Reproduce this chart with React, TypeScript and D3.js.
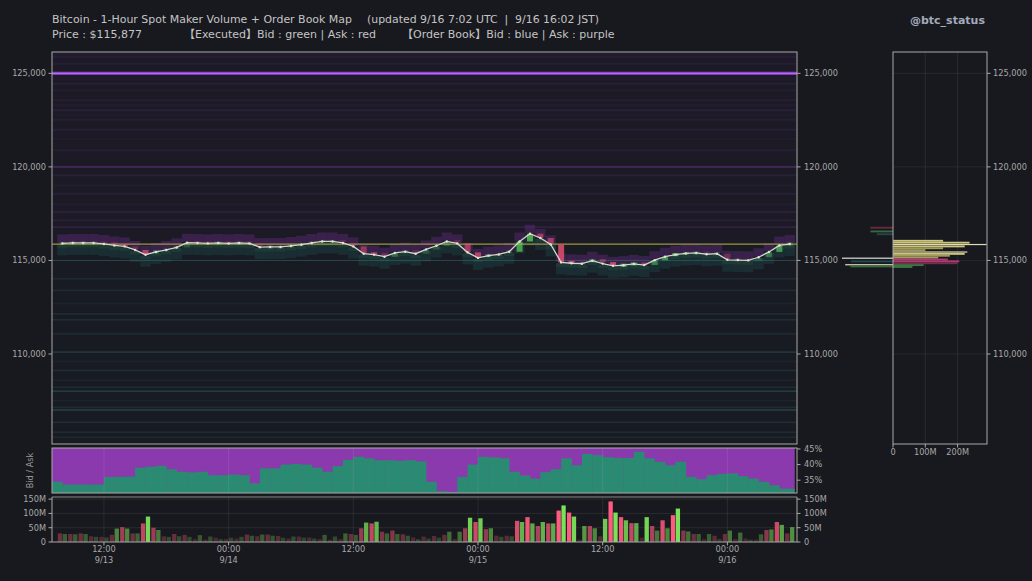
import React from "react";
import * as d3 from "d3";

const FONT = "'DejaVu Sans', 'Noto Sans CJK JP', sans-serif";
const HOUR = 3600000;
const FIRST_CANDLE = Date.UTC(2025, 8, 13, 8, 0);
const DOMAIN_START = Date.UTC(2025, 8, 13, 7, 0);
const DOMAIN_END = Date.UTC(2025, 8, 16, 6, 42);
const CURRENT_PRICE = 115877;

// hourly closes (USD)
const closes = [
  115910, 115935, 115935, 115935, 115880, 115800, 115750, 115560, 115305, 115455,
  115560, 115695, 115945, 115935, 115910, 115935, 115910, 115935, 115910, 115710,
  115720, 115720, 115775, 115840, 115935, 116015, 116015, 115935, 115750, 115360,
  115310, 115200, 115400, 115470, 115360, 115590, 115785, 116015, 115910, 115430,
  115135, 115255, 115320, 115465, 116015, 116430, 116200, 115855, 114895, 114850,
  114825, 114985, 114830, 114715, 114745, 114815, 114755, 115015, 115200, 115310,
  115375, 115400, 115330, 115360, 115035, 115020, 115005, 115170, 115455, 115800,
  115877,
];

// executed maker volume per hour (millions USD)
const askVolM = [
  30, 28, 30, 20, 18, 25, 52, 30, 65, 50, 20, 28, 25, 10, 8, 15, 10, 12, 26, 20,
  26, 21, 12, 19, 16, 10, 8, 10, 28, 48, 65, 36, 40, 27, 16, 19, 21, 25, 10, 48,
  70, 45, 22, 22, 74, 87, 56, 65, 110, 103, 8, 56, 20, 142, 87, 66, 15, 56, 76, 94,
  40, 28, 10, 22, 28, 10, 12, 8, 42, 70, 30,
];
const bidVolM = [
  28, 27, 28, 18, 16, 47, 47, 30, 89, 42, 18, 20, 18, 24, 19, 10, 15, 18, 22, 26,
  22, 15, 19, 15, 12, 25, 19, 30, 25, 68, 71, 30, 28, 22, 10, 12, 15, 36, 36, 85,
  83, 48, 18, 20, 70, 65, 70, 65, 128, 89, 56, 48, 81, 103, 76, 66, 87, 40, 48, 117,
  37, 28, 28, 10, 40, 33, 8, 27, 44, 60, 52,
];

// order book bid share (%)
const bidSharePct = [
  34.5, 33.6, 33.6, 33.6, 33.6, 36.0, 36.1, 36.1, 39.0, 39.3,
  39.6, 38.5, 37.7, 37.5, 37.7, 36.6, 36.6, 36.8, 36.6, 34.0,
  38.8, 38.8, 40.0, 40.2, 40.0, 39.0, 37.7, 39.5, 41.5, 42.5,
  42.0, 41.4, 41.4, 41.2, 41.4, 41.0, 34.5, 31.5, 31.2, 36.0,
  40.0, 42.5, 42.3, 42.0, 37.7, 36.5, 35.5, 37.6, 38.5, 42.0,
  39.8, 43.4, 43.0, 42.4, 42.1, 42.1, 44.1, 42.0, 40.9, 39.8,
  40.9, 36.1, 35.3, 36.6, 37.0, 37.2, 36.3, 35.5, 34.5, 33.4,
  32.3,
];

// order book resting levels
const askLevelPrices = [126000, 125870, 125520, 124700, 124450, 124090, 123560, 123290, 123020, 122800, 122520, 121990, 121500, 120880, 120000, 119550, 119000, 118570, 118000, 117580, 117140, 116780];
const askLevelStrength = [0.08, 0.1, 0.1, 0.05, 0.12, 0.08, 0.1, 0.08, 0.13, 0.05, 0.1, 0.13, 0.06, 0.1, 0.32, 0.12, 0.08, 0.11, 0.08, 0.13, 0.13, 0.16];
const bidLevelPrices = [114020, 113400, 112700, 112150, 111830, 111080, 110100, 109600, 109120, 108600, 108220, 108010, 107500, 107150, 107010, 106350, 105820, 105550];
const bidLevelStrength = [0.14, 0.14, 0.07, 0.16, 0.16, 0.14, 0.24, 0.07, 0.16, 0.07, 0.14, 0.26, 0.07, 0.14, 0.3, 0.16, 0.14, 0.12];
const wallPrice = 125000;

// side depth profile
const sidePrices = [116750, 116550, 116400, 116050, 115950, 115850, 115750, 115650, 115550, 115450, 115350, 115250, 115150, 115120, 115050, 114950, 114950, 114850, 114770, 114750, 114680, 114650];
const sideSizesM = [-70, -70, -50, 155, 237, 290, 222, 155, 100, 230, 222, 176, 140, -158, 170, 205, -130, 200, -148, 95, -132, 60];
const sideKinds = ["r", "g", "t", "k", "k", "l", "k", "o", "o", "l", "k", "o", "o", "w", "p", "p", "t", "r", "l", "g", "g", "g"];
const sideColors: Record<string, string> = {
  k: "#d6cd7e", o: "#a8a25e", l: "#ebe6bd", p: "#b83d7c", r: "#7c3048", g: "#3f7d45", t: "#25525a", w: "#e8e8e0",
};

const priceTicks = [110000, 115000, 120000, 125000];
const volTicks = [0, 50, 100, 150];
const shareTicks = [35, 40, 45];
const sideTicks = [0, 100, 200];

const TICK_COLOR = "#a8a8a8";
const TICK_FS = 8.2;

export default function App() {
  const times = closes.map((_, i) => new Date(FIRST_CANDLE + i * HOUR));
  const x = d3.scaleUtc().domain([new Date(DOMAIN_START), new Date(DOMAIN_END)]).range([52, 797]);
  const y = d3.scaleLinear().domain([105190, 126140]).range([444, 52]);
  const yShare = d3.scaleLinear().domain([30.9, 45.3]).range([493, 448]);
  const yVol = d3.scaleLinear().domain([0, 157.5]).range([542, 497]);
  const xSide = d3.scaleLinear().domain([0, 291]).range([893, 987]);
  const xTicks = d3.utcHour.every(12)!.range(new Date(DOMAIN_START), new Date(DOMAIN_END));
  const fmtHM = d3.utcFormat("%H:%M");
  const fmtMD = (d: Date) => `${d.getUTCMonth() + 1}/${d.getUTCDate()}`;
  const fmtPrice = d3.format(",");
  const line = d3.line<number>().x((_, i) => x(times[i])).y((d) => y(d));
  const halfH = (x(new Date(FIRST_CANDLE + HOUR)) - x(new Date(FIRST_CANDLE))) / 2;
  const hourW = halfH * 2;
  const ySpan = y(115000) - y(115100);

  const [L, R, T, B] = [52, 797, 52, 444];
  const pre = { whiteSpace: "pre" as const };

  return (
    <div style={{ position: "absolute", left: 0, top: 0 }}>
      <svg width={1032} height={581} style={{ display: "block", fontFamily: FONT }}>
        <defs>
          <clipPath id="mainClip"><rect x={L} y={T} width={R - L} height={B - T} /></clipPath>
          <clipPath id="shareClip"><rect x={L} y={448} width={R - L} height={45} /></clipPath>
        </defs>
        <rect width={1032} height={581} fill="#18191e" />

        {/* Title */}
        <text x={52} y={23} fontSize={11} fill="#c4c4c4" textLength={300} lengthAdjust="spacingAndGlyphs">Bitcoin - 1-Hour Spot Maker Volume + Order Book Map</text>
        <text x={367} y={23} fontSize={11} fill="#c4c4c4" style={pre} textLength={232} lengthAdjust="spacingAndGlyphs">(updated 9/16 7:02 UTC  |  9/16 16:02 JST)</text>
        <text x={52} y={37.5} fontSize={11} fill="#c4c4c4" textLength={90} lengthAdjust="spacingAndGlyphs">Price : $115,877</text>
        <text x={184} y={37.5} fontSize={11} fill="#c4c4c4">【Executed】Bid : green | Ask : red</text>
        <text x={402} y={37.5} fontSize={11} fill="#c4c4c4">【Order Book】Bid : blue | Ask : purple</text>
        <text x={985} y={24} fontSize={11} fontWeight="bold" fill="#a3aabb" textAnchor="end">@btc_status</text>

        {/* Main panel */}
        <g clipPath="url(#mainClip)">
          <rect x={L} y={T} width={R - L} height={y(CURRENT_PRICE) - T} fill="#1c1a25" />
          <rect x={L} y={y(CURRENT_PRICE)} width={R - L} height={B - y(CURRENT_PRICE)} fill="#191b23" />
          {askLevelPrices.map((p, i) => (
            <rect key={"a" + i} x={L} width={R - L} y={y(p) - 1} height={2} fill="#8a48c0" opacity={askLevelStrength[i]} />
          ))}
          {bidLevelPrices.map((p, i) => (
            <rect key={"b" + i} x={L} width={R - L} y={y(p) - 0.8} height={1.6} fill="#3f9590" opacity={bidLevelStrength[i]} />
          ))}
          <rect x={L} width={R - L} y={y(wallPrice) - 1.6} height={3.2} fill="#8a3cc8" />
          <rect x={L} width={R - L} y={y(wallPrice) - 0.5} height={1} fill="#b878f0" />
          {closes.map((c, i) => {
            const xc = x(times[i]);
            return (
              <g key={"z" + i}>
                <rect x={xc - halfH} width={hourW} y={y(c + 480)} height={y(c + 40) - y(c + 480)} fill="#6c2d8e" opacity={0.38} />
                <rect x={xc - halfH} width={hourW} y={y(c - 40)} height={y(c - 640) - y(c - 40)} fill="#1c5a57" opacity={0.3} />
                <rect x={xc - halfH} width={hourW} y={y(c - 40)} height={ySpan * 2} fill="#2a6f4a" opacity={0.22} />
              </g>
            );
          })}
          <line x1={L} x2={R} y1={y(CURRENT_PRICE)} y2={y(CURRENT_PRICE)} stroke="#9c9646" strokeWidth={1.2} />
          <line x1={L} x2={R} y1={y(115000)} y2={y(115000)} stroke="#3e8a8a" strokeWidth={1} opacity={0.4} />
          {closes.map((c, i) => {
            const o = i === 0 ? c : closes[i - 1];
            const up = c >= o;
            const top = y(Math.max(o, c));
            const h = Math.max(3, y(Math.min(o, c)) - top);
            const vol = askVolM[i] + bidVolM[i];
            const op = Math.max(0.2, Math.min(0.85, vol / 210));
            return (
              <rect key={"k" + i} x={x(times[i]) - 3} width={6} y={top - (h === 3 ? 1.5 : 0)} height={h}
                fill={up ? "#5fd35a" : "#e0506e"} opacity={op} />
            );
          })}
          <path d={line(closes) || ""} fill="none" stroke="#d6d4cc" strokeWidth={1.3} />
          {closes.map((c, i) => (
            <circle key={"d" + i} cx={x(times[i])} cy={y(c)} r={1.2} fill="#e2e0d8" />
          ))}
        </g>
        <rect x={L} y={T} width={R - L} height={B - T} fill="none" stroke="#a9a9a9" strokeWidth={1} />
        {priceTicks.map((p) => (
          <g key={"pt" + p}>
            <line x1={L - 3.5} x2={L} y1={y(p)} y2={y(p)} stroke="#a9a9a9" />
            <text x={L - 6} y={y(p)} dy="0.35em" fontSize={TICK_FS} fill={TICK_COLOR} textAnchor="end">{fmtPrice(p)}</text>
            <line x1={R} x2={R + 3.5} y1={y(p)} y2={y(p)} stroke="#a9a9a9" />
            <text x={R + 7} y={y(p)} dy="0.35em" fontSize={TICK_FS} fill={TICK_COLOR}>{fmtPrice(p)}</text>
          </g>
        ))}

        {/* Bid/Ask share panel */}
        <g clipPath="url(#shareClip)">
          <rect x={L} y={448} width={x(times[times.length - 1]) + 5 - L} height={45} fill="#8a3aad" />
          {bidSharePct.map((v, i) => {
            const x1 = x(times[i]) - hourW;
            const x2 = x(times[i]) + (i === bidSharePct.length - 1 ? 5 : 0.3);
            return <rect key={"s" + i} x={x1} width={x2 - x1} y={yShare(v)} height={493 - yShare(v)} fill="#2b8a72" />;
          })}
          {xTicks.map((t, i) => (
            <line key={"sg" + i} x1={x(t)} x2={x(t)} y1={448} y2={493} stroke="#ffffff" opacity={0.08} />
          ))}
        </g>
        <rect x={L} y={448} width={R - L} height={45} fill="none" stroke="#a9a9a9" strokeWidth={1} />
        {shareTicks.map((v) => (
          <g key={"st" + v}>
            <line x1={R} x2={R + 3.5} y1={yShare(v)} y2={yShare(v)} stroke="#a9a9a9" />
            <text x={R + 7} y={yShare(v)} dy="0.35em" fontSize={TICK_FS} fill={TICK_COLOR}>{v}%</text>
          </g>
        ))}
        <text transform={`translate(33,${470.5}) rotate(-90)`} fontSize={TICK_FS} fill="#9a9a9a" textAnchor="middle">Bid / Ask</text>

        {/* Volume panel */}
        {volTicks.slice(1).map((v) => (
          <line key={"vg" + v} x1={L} x2={R} y1={yVol(v)} y2={yVol(v)} stroke="#ffffff" opacity={0.07} />
        ))}
        {xTicks.map((t, i) => (
          <line key={"vxg" + i} x1={x(t)} x2={x(t)} y1={497} y2={542} stroke="#ffffff" opacity={0.07} />
        ))}
        {closes.map((_, i) => {
          const xc = x(times[i]);
          const a = askVolM[i];
          const b = bidVolM[i];
          const opA = Math.max(0.22, Math.min(1, 0.07 + a * 0.01));
          const opB = Math.max(0.22, Math.min(1, 0.07 + b * 0.01));
          return (
            <g key={"v" + i}>
              <rect x={xc - 4.6} width={4.3} y={yVol(a)} height={542 - yVol(a)} fill="#ff5a80" opacity={opA} />
              <rect x={xc + 0.3} width={4.3} y={yVol(b)} height={542 - yVol(b)} fill="#7be05a" opacity={opB} />
            </g>
          );
        })}
        <line x1={L} x2={R} y1={497} y2={497} stroke="#8a8a8a" />
        <line x1={L} x2={R} y1={542} y2={542} stroke="#a9a9a9" />
        <line x1={L} x2={L} y1={497} y2={542} stroke="#a9a9a9" />
        <line x1={R} x2={R} y1={497} y2={542} stroke="#a9a9a9" />
        {volTicks.map((v) => (
          <g key={"vt" + v}>
            <line x1={L - 3.5} x2={L} y1={yVol(v)} y2={yVol(v)} stroke="#a9a9a9" />
            <text x={L - 6} y={yVol(v)} dy="0.35em" fontSize={TICK_FS} fill={TICK_COLOR} textAnchor="end">{v === 0 ? "0" : `${v}M`}</text>
            <line x1={R} x2={R + 3.5} y1={yVol(v)} y2={yVol(v)} stroke="#a9a9a9" />
            <text x={R + 7} y={yVol(v)} dy="0.35em" fontSize={TICK_FS} fill={TICK_COLOR}>{v === 0 ? "0" : `${v}M`}</text>
          </g>
        ))}
        {xTicks.map((t, i) => (
          <g key={"xt" + i}>
            <line x1={x(t)} x2={x(t)} y1={542} y2={545.5} stroke="#a9a9a9" />
            <text x={x(t)} y={552} fontSize={TICK_FS} fill={TICK_COLOR} textAnchor="middle">{fmtHM(t)}</text>
            {(i === 0 || t.getUTCHours() === 0) && (
              <text x={x(t)} y={563} fontSize={TICK_FS} fill={TICK_COLOR} textAnchor="middle">{fmtMD(t)}</text>
            )}
          </g>
        ))}

        {/* Side depth panel */}
        {priceTicks.map((p) => (
          <line key={"sh" + p} x1={893} x2={987} y1={y(p)} y2={y(p)} stroke="#ffffff" opacity={0.06} />
        ))}
        {sideTicks.slice(1).map((v) => (
          <line key={"sv" + v} x1={xSide(v)} x2={xSide(v)} y1={52} y2={444} stroke="#ffffff" opacity={0.07} />
        ))}
        {sidePrices.map((p, i) => {
          const s = sideSizesM[i];
          const x0 = xSide(Math.min(0, s));
          const w = Math.abs(xSide(s) - xSide(0));
          const thin = sideKinds[i] === "w" || sideKinds[i] === "l";
          return (
            <rect key={"sd" + i} x={x0} width={w} y={y(p) - (thin ? 0.6 : ySpan / 2)} height={thin ? 1.2 : ySpan}
              fill={sideColors[sideKinds[i]]} opacity={s < 0 && !thin ? 0.8 : 0.95} />
          );
        })}
        <rect x={893} y={52} width={94} height={392} fill="none" stroke="#a9a9a9" strokeWidth={1} />
        {priceTicks.map((p) => (
          <g key={"spt" + p}>
            <line x1={987} x2={990.5} y1={y(p)} y2={y(p)} stroke="#a9a9a9" />
            <text x={993} y={y(p)} dy="0.35em" fontSize={TICK_FS} fill={TICK_COLOR}>{fmtPrice(p)}</text>
          </g>
        ))}
        {sideTicks.map((v) => (
          <g key={"sxt" + v}>
            <line x1={xSide(v)} x2={xSide(v)} y1={444} y2={447.5} stroke="#a9a9a9" />
            <text x={xSide(v)} y={455} fontSize={TICK_FS} fill={TICK_COLOR} textAnchor="middle">{v === 0 ? "0" : `${v}M`}</text>
          </g>
        ))}
      </svg>
    </div>
  );
}
